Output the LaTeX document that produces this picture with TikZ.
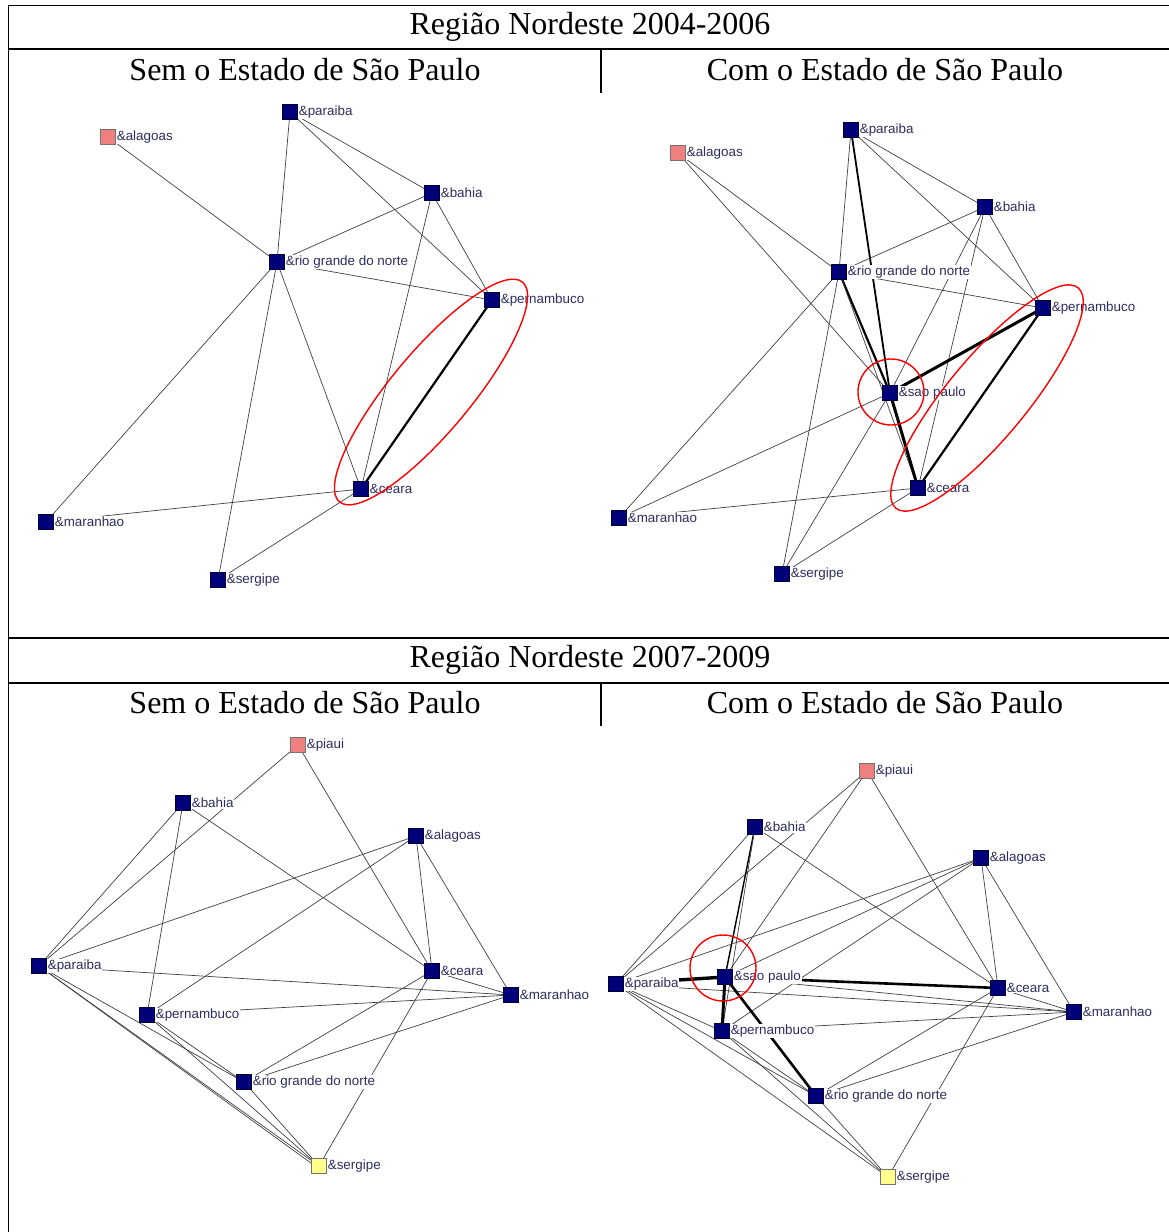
\documentclass[tikz,border=0pt]{standalone}
\usepackage{fontspec}
\setmainfont{Liberation Serif}
\newfontfamily\lblfont{Liberation Sans}
\usetikzlibrary{backgrounds}
\definecolor{navybox}{RGB}{0,0,120}
\definecolor{salmonbox}{RGB}{240,128,128}
\definecolor{yellowbox}{RGB}{255,255,140}
\definecolor{lblcol}{RGB}{45,45,95}
\begin{document}
\begin{tikzpicture}[x=1pt,y=-1pt,
  rule/.style={line width=1.6pt,line cap=rect},
  head/.style={font=\fontsize{32}{36}\selectfont,inner sep=0pt},
  vtx/.style={rectangle,minimum size=14.5pt,inner sep=0pt,draw=black!60!navybox,fill=navybox,line width=0.6pt},
  pinkvtx/.style={vtx,fill=salmonbox,draw=black!55},
  yellowvtx/.style={vtx,fill=yellowbox,draw=black!55},
  lbl/.style={font=\lblfont\fontsize{13.4}{14}\selectfont,text=lblcol,fill=white,inner sep=0.6pt,label distance=0.5pt},
  tie/.style={draw=black!75,line width=0.7pt},
  heavy/.style={draw=black,line width=2.2pt},
  heavier/.style={draw=black,line width=3pt},
  ring/.style={draw=red,line width=1.4pt},
]
\useasboundingbox (0,0) rectangle (1169,1232);

% table frame
\draw[rule] (8.5,1232) -- (8.5,5.5) -- (1169,5.5);
\draw[rule] (8.5,49) -- (1169,49);
\draw[rule] (601,49) -- (601,92);
\draw[rule] (8.5,638) -- (1169,638);
\draw[rule] (8.5,683) -- (1169,683);
\draw[rule] (601,683) -- (601,725);

% headings
\node[head] (t1) at (590,27) {Região Nordeste 2004-2006};
\node[head] (s1l) at (305,70) {Sem o Estado de São Paulo};
\node[head] (s1r) at (885,70) {Com o Estado de São Paulo};
\node[head] (t2) at (590,660) {Região Nordeste 2007-2009};
\node[head] (s2l) at (305,703) {Sem o Estado de São Paulo};
\node[head] (s2r) at (885,703) {Com o Estado de São Paulo};

% ---------- 2004-2006, without Sao Paulo ----------
\node[pinkvtx,label={[lbl]east:\&alagoas}] (aal) at (108,137) {};
\node[vtx,label={[lbl]east:\&paraiba}] (apa) at (290,112) {};
\node[vtx,label={[lbl]east:\&bahia}] (aba) at (432,193) {};
\node[vtx,label={[lbl]east:\&rio grande do norte}] (arn) at (277,262) {};
\node[vtx,label={[lbl]east:\&pernambuco}] (ape) at (492,300) {};
\node[vtx,label={[lbl]east:\&ceara}] (ace) at (361,489) {};
\node[vtx,label={[lbl]east:\&maranhao}] (ama) at (46,522) {};
\node[vtx,label={[lbl]east:\&sergipe}] (ase) at (218,580) {};
\begin{scope}[on background layer]
\draw[tie] (aal.center) -- (arn.center);
\draw[tie] (apa.center) -- (arn.center);
\draw[tie] (apa.center) -- (aba.center);
\draw[tie] (apa.center) -- (ape.center);
\draw[tie] (aba.center) -- (arn.center);
\draw[tie] (aba.center) -- (ace.center);
\draw[tie] (aba.center) -- (ape.center);
\draw[tie] (arn.center) -- (ape.center);
\draw[tie] (arn.center) -- (ace.center);
\draw[tie] (arn.center) -- (ama.center);
\draw[tie] (arn.center) -- (ase.center);
\draw[heavy] (ape.center) -- (ace.center);
\draw[tie] (ace.center) -- (ama.center);
\draw[tie] (ace.center) -- (ase.center);
\end{scope}
\draw[ring,rotate around={50.2:(431,392)}] (431,392) ellipse [x radius=143,y radius=40];

% ---------- 2004-2006, with Sao Paulo ----------
\node[pinkvtx,label={[lbl]east:\&alagoas}] (bal) at (678,153) {};
\node[vtx,label={[lbl]east:\&paraiba}] (bpa) at (851,130) {};
\node[vtx,label={[lbl]east:\&bahia}] (bba) at (985,207) {};
\node[vtx,label={[lbl]east:\&rio grande do norte}] (brn) at (839,272) {};
\node[vtx,label={[lbl]east:\&pernambuco}] (bpe) at (1043,308) {};
\node[vtx,label={[lbl]east:\&sao paulo}] (bsp) at (890,393) {};
\node[vtx,label={[lbl]east:\&ceara}] (bce) at (918,488) {};
\node[vtx,label={[lbl]east:\&maranhao}] (bma) at (619,518) {};
\node[vtx,label={[lbl]east:\&sergipe}] (bse) at (782,574) {};
\begin{scope}[on background layer]
\draw[tie] (bal.center) -- (brn.center);
\draw[tie] (bal.center) -- (bsp.center);
\draw[tie] (bpa.center) -- (brn.center);
\draw[heavy,line width=1.8pt] (bpa.center) -- (bsp.center);
\draw[tie] (bpa.center) -- (bba.center);
\draw[tie] (bpa.center) -- (bpe.center);
\draw[tie] (bba.center) -- (brn.center);
\draw[tie] (bba.center) -- (bsp.center);
\draw[tie] (bba.center) -- (bce.center);
\draw[tie] (bba.center) -- (bpe.center);
\draw[tie] (brn.center) -- (bpe.center);
\draw[heavy] (brn.center) -- (bsp.center);
\draw[tie] (brn.center) -- (bce.center);
\draw[tie] (brn.center) -- (bma.center);
\draw[tie] (brn.center) -- (bse.center);
\draw[heavier] (bpe.center) -- (bsp.center);
\draw[heavy] (bpe.center) -- (bce.center);
\draw[heavier] (bsp.center) -- (bce.center);
\draw[tie] (bsp.center) -- (bma.center);
\draw[tie] (bsp.center) -- (bse.center);
\draw[tie] (bce.center) -- (bma.center);
\draw[tie] (bce.center) -- (bse.center);
\end{scope}
\draw[ring,rotate around={50.4:(987,398)}] (987,398) ellipse [x radius=143,y radius=40];
\draw[ring] (891,392) circle [radius=33];

% ---------- 2007-2009, without Sao Paulo ----------
\node[pinkvtx,label={[lbl]east:\&piaui}] (cpi) at (298,745) {};
\node[vtx,label={[lbl]east:\&bahia}] (cba) at (183,803) {};
\node[vtx,label={[lbl]east:\&alagoas}] (cal) at (416,836) {};
\node[vtx,label={[lbl]east:\&paraiba}] (cpa) at (39,966) {};
\node[vtx,label={[lbl]east:\&ceara}] (cce) at (432,971) {};
\node[vtx,label={[lbl]east:\&maranhao}] (cma) at (511,995) {};
\node[vtx,label={[lbl]east:\&pernambuco}] (cpe) at (147,1015) {};
\node[vtx,label={[lbl]east:\&rio grande do norte}] (crn) at (244,1082) {};
\node[yellowvtx,label={[lbl]east:\&sergipe}] (cse) at (319,1166) {};
\begin{scope}[on background layer]
\draw[tie] (cpi.center) -- (cpa.center);
\draw[tie] (cpi.center) -- (cce.center);
\draw[tie] (cba.center) -- (cpa.center);
\draw[tie] (cba.center) -- (cpe.center);
\draw[tie] (cba.center) -- (cce.center);
\draw[tie] (cal.center) -- (cpa.center);
\draw[tie] (cal.center) -- (cpe.center);
\draw[tie] (cal.center) -- (cce.center);
\draw[tie] (cal.center) -- (cma.center);
\draw[tie] (cpa.center) -- (cma.center);
\draw[tie] (cpa.center) -- (crn.center);
\draw[tie] (cpa.center) -- (cse.center);
\draw[tie] (cpa.center) -- ([xshift=-4pt]cse.center);
\draw[tie] (cce.center) -- (crn.center);
\draw[tie] (cce.center) -- (cma.center);
\draw[tie] (cce.center) -- (cse.center);
\draw[tie] (cma.center) -- (cpe.center);
\draw[tie] (cma.center) -- (crn.center);
\draw[tie] (cpe.center) -- (crn.center);
\draw[tie] (cpe.center) -- (cse.center);
\draw[tie] (crn.center) -- (cse.center);
\end{scope}

% ---------- 2007-2009, with Sao Paulo ----------
\node[pinkvtx,label={[lbl]east:\&piaui}] (dpi) at (867,771) {};
\node[vtx,label={[lbl]east:\&bahia}] (dba) at (755,827) {};
\node[vtx,label={[lbl]east:\&alagoas}] (dal) at (981,858) {};
\node[vtx,label={[lbl]east:\&paraiba}] (dpa) at (616,984) {};
\node[vtx,label={[lbl]east:\&sao paulo}] (dsp) at (725,977) {};
\node[vtx,label={[lbl]east:\&ceara}] (dce) at (998,988) {};
\node[vtx,label={[lbl]east:\&maranhao}] (dma) at (1074,1012) {};
\node[vtx,label={[lbl]east:\&pernambuco}] (dpe) at (722,1031) {};
\node[vtx,label={[lbl]east:\&rio grande do norte}] (drn) at (816,1096) {};
\node[yellowvtx,label={[lbl]east:\&sergipe}] (dse) at (888,1177) {};
\begin{scope}[on background layer]
\draw[tie] (dpi.center) -- (dpa.center);
\draw[tie] (dpi.center) -- (dsp.center);
\draw[tie] (dpi.center) -- (dce.center);
\draw[tie] (dba.center) -- (dpa.center);
\draw[heavy,line width=1.4pt] (dba.center) -- (dsp.center);
\draw[tie] (dba.center) -- (dpe.center);
\draw[tie] (dba.center) -- (dce.center);
\draw[tie] (dal.center) -- (dpa.center);
\draw[tie] (dal.center) -- (dsp.center);
\draw[tie] (dal.center) -- (dpe.center);
\draw[tie] (dal.center) -- (dce.center);
\draw[tie] (dal.center) -- (dma.center);
\draw[heavier,line width=3.4pt] (dpa.center) -- (dsp.center);
\draw[tie] (dpa.center) -- (dma.center);
\draw[tie] (dpa.center) -- (dpe.center);
\draw[tie] (dpa.center) -- (drn.center);
\draw[tie] (dpa.center) -- (dse.center);
\draw[heavy,line width=2.6pt] (dsp.center) -- (dce.center);
\draw[heavier] (dsp.center) -- (dpe.center);
\draw[heavy,line width=2.6pt] (dsp.center) -- (drn.center);
\draw[tie] (dsp.center) -- (dma.center);
\draw[tie] (dce.center) -- (dma.center);
\draw[tie] (dce.center) -- (drn.center);
\draw[tie] (dce.center) -- (dse.center);
\draw[tie] (dma.center) -- (dpe.center);
\draw[tie] (dma.center) -- (drn.center);
\draw[tie] (dpe.center) -- (drn.center);
\draw[tie] (dpe.center) -- (dse.center);
\draw[tie] (drn.center) -- (dse.center);
\end{scope}
\draw[ring] (723,968) circle [radius=33];

\end{tikzpicture}
\end{document}
